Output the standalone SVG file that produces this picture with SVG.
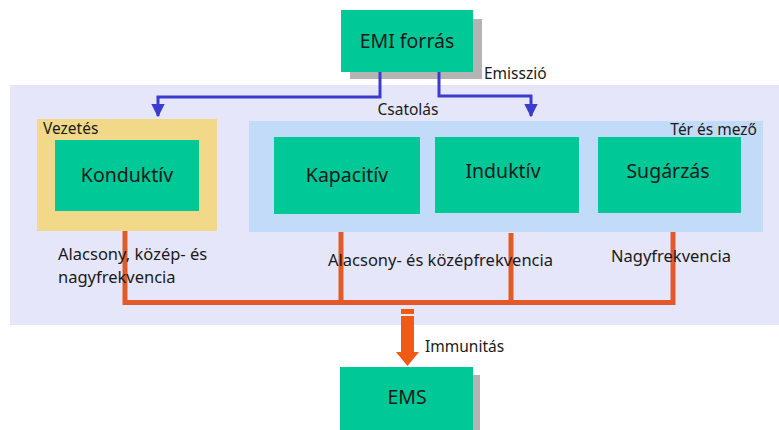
<svg xmlns="http://www.w3.org/2000/svg" width="779" height="430" viewBox="0 0 779 430">
<style>
text{font-family:"Noto Sans","Open Sans",sans-serif;fill:#1a1a1a}
.node{fill:#00c896}
.shadow{fill:#b4b4b4}
.big{font-size:19.5px}
.lbl{font-size:16.5px}
.sm{font-size:15.5px}
.blue{fill:none;stroke:#3b3bd0;stroke-width:3}
.orange{fill:none;stroke:#e25a28;stroke-width:5}
</style>
<defs>
<marker id="ab" viewBox="0 0 10 10" refX="9" refY="5" markerWidth="4.5" markerHeight="4.5" orient="auto" markerUnits="strokeWidth">
<path d="M0,0 L10,5 L0,10 z" fill="#3b3bd0"/>
</marker>
</defs>
<rect width="779" height="430" fill="#ffffff"/>
<g id="coupling-area">
<rect x="10" y="85" width="769" height="240" fill="#e6e6fa"/>
<text x="408" y="115" class="sm" text-anchor="middle">Csatolás</text>
</g>
<g id="vezetes">
<rect x="37" y="119" width="180" height="112" fill="#f2d98a"/>
<text x="43" y="134" class="sm">Vezetés</text>
</g>
<g id="ter-es-mezo">
<rect x="249" y="121" width="514" height="111" fill="#c2dbf8"/>
<text x="757" y="135" class="sm" text-anchor="end">Tér és mező</text>
</g>
<g id="emi-forras">
<rect x="350" y="19" width="132" height="60" class="shadow"/>
<rect x="341" y="10" width="132" height="62" class="node"/>
<text x="407" y="48" class="big" text-anchor="middle">EMI forrás</text>
</g>
<g id="konduktiv">
<rect x="55" y="140" width="144" height="71" class="node"/>
<text x="127" y="182" class="big" text-anchor="middle">Konduktív</text>
</g>
<g id="kapacitiv">
<rect x="274" y="137" width="146" height="77" class="node"/>
<text x="347" y="182" class="big" text-anchor="middle">Kapacitív</text>
</g>
<g id="induktiv">
<rect x="435" y="137" width="144" height="76" class="node"/>
<text x="503" y="178" class="big" text-anchor="middle">Induktív</text>
</g>
<g id="sugarzas">
<rect x="598" y="137" width="143" height="76" class="node"/>
<text x="668" y="178" class="big" text-anchor="middle">Sugárzás</text>
</g>
<g id="ems">
<rect x="347" y="375" width="133" height="55" class="shadow"/>
<rect x="340" y="367" width="133" height="63" class="node"/>
<text x="407" y="404" class="big" text-anchor="middle">EMS</text>
</g>
<g id="connectors">
<path class="blue" d="M380,72 V97 H158 V116" marker-end="url(#ab)"/>
<path class="blue" d="M439,72 V96 H531 V116" marker-end="url(#ab)"/>
<path class="orange" d="M125,231 V302.5 H673 V232"/>
<path class="orange" d="M341,232 V302.5"/>
<path class="orange" d="M511,233 V302.5"/>
<rect x="401" y="309" width="13" height="5" fill="#f05a14"/>
<path d="M401,316 H414 V352 H419 L407.5,366 L396,352 H401 Z" fill="#f05a14"/>
</g>
<g id="labels">
<text x="484" y="79" class="sm">Emisszió</text>
<text x="58" y="260" class="lbl">Alacsony, közép- és</text>
<text x="58" y="283" class="lbl">nagyfrekvencia</text>
<text x="328" y="266" class="lbl">Alacsony- és középfrekvencia</text>
<text x="611" y="262" class="lbl">Nagyfrekvencia</text>
<text x="425" y="352" class="sm">Immunitás</text>
</g>
</svg>
